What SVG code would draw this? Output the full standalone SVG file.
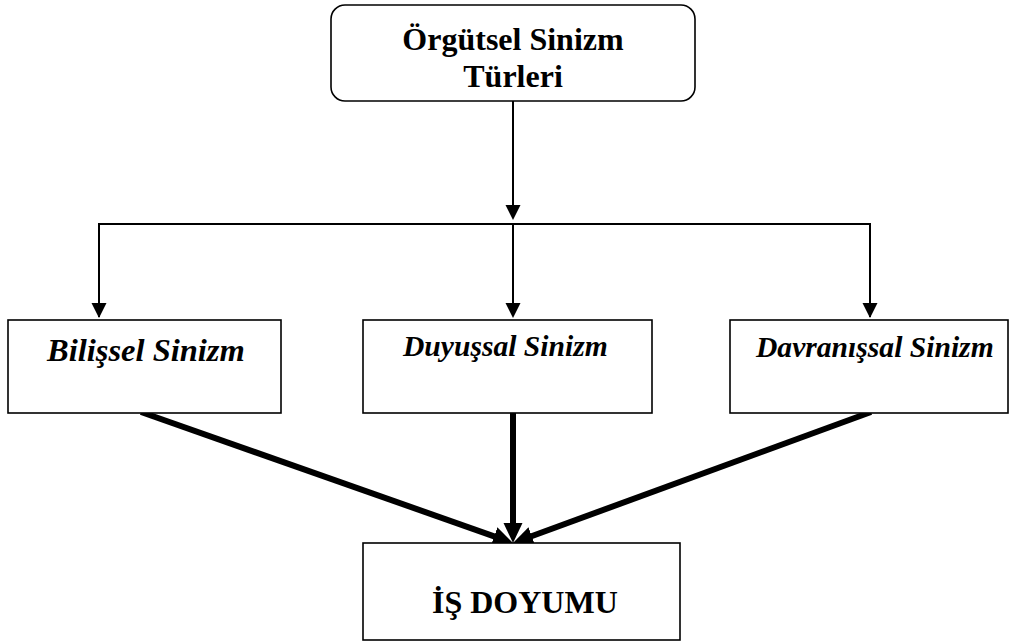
<svg xmlns="http://www.w3.org/2000/svg" width="1010" height="642" viewBox="0 0 1010 642">
<style>
.box{fill:#fff;stroke:#000;stroke-width:1.6}
.t{font-family:"Liberation Serif","Times New Roman",serif;font-weight:bold;fill:#000}
.it{font-style:italic;font-size:29.6px}
.thin{stroke:#000;stroke-width:2;fill:none}
.thick{stroke:#000;stroke-width:6;fill:none}
</style>
<defs>
<marker id="ah" markerUnits="userSpaceOnUse" markerWidth="16" markerHeight="16" refX="10" refY="7.5" orient="auto">
<path d="M0,0 L15,7.5 L0,15 z" fill="#000"/>
</marker>
<marker id="ahb" markerUnits="userSpaceOnUse" markerWidth="22" markerHeight="22" refX="12" refY="9.5" orient="auto">
<path d="M0,0 L20,9.5 L0,19 z" fill="#000"/>
</marker>
</defs>
<rect width="1010" height="642" fill="#fff"/>
<g id="connectors">
<line class="thin" x1="513" y1="101" x2="513" y2="215" marker-end="url(#ah)"/>
<polyline class="thin" points="99,317 99,224 870,224 870,317"/>
<line class="thin" x1="99" y1="224" x2="99" y2="313" marker-end="url(#ah)"/>
<line class="thin" x1="513" y1="224" x2="513" y2="313" marker-end="url(#ah)"/>
<line class="thin" x1="870" y1="224" x2="870" y2="313" marker-end="url(#ah)"/>
<line class="thick" x1="141" y1="412" x2="505.5" y2="540.3" marker-end="url(#ahb)"/>
<line class="thick" x1="513" y1="413" x2="513" y2="535" marker-end="url(#ahb)"/>
<line class="thick" x1="871" y1="412" x2="520.5" y2="540.2" marker-end="url(#ahb)"/>
</g>
<g id="orgutsel">
<rect class="box" x="331" y="5" width="364" height="96" rx="14"/>
<text class="t" x="513" y="50" font-size="32" text-anchor="middle">Örgütsel Sinizm</text>
<text class="t" x="513" y="87" font-size="32" text-anchor="middle">Türleri</text>
</g>
<g id="bilissel">
<rect class="box" x="8" y="320" width="273" height="93"/>
<text class="t it" x="47" y="361" style="font-size:32.5px">Bilişsel Sinizm</text>
</g>
<g id="duyussal">
<rect class="box" x="363" y="320" width="289" height="93"/>
<text class="t it" x="403" y="356">Duyuşsal Sinizm</text>
</g>
<g id="davranissal">
<rect class="box" x="730" y="320" width="278" height="93"/>
<text class="t it" x="756" y="357">Davranışsal Sinizm</text>
</g>
<g id="isdoyumu">
<rect class="box" x="363" y="543" width="317" height="97"/>
<text class="t" x="432" y="613" font-size="32">İŞ DOYUMU</text>
</g>
</svg>
